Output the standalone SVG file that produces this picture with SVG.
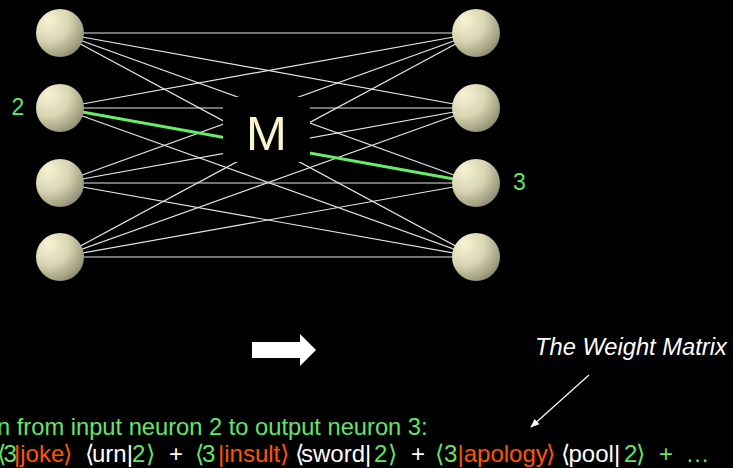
<svg xmlns="http://www.w3.org/2000/svg" width="733" height="468" viewBox="0 0 733 468">
<defs>
<radialGradient id="sph" cx="0.3" cy="0.28" r="0.85" fx="0.25" fy="0.22">
<stop offset="0" stop-color="#f6f4d4"/>
<stop offset="0.5" stop-color="#d8d5b2"/>
<stop offset="1" stop-color="#86836b"/>
</radialGradient>
<marker id="ah" viewBox="0 0 10 10" refX="9" refY="5" markerWidth="9" markerHeight="9" orient="auto" markerUnits="userSpaceOnUse">
<path d="M0,1 L10,5 L0,9 Z" fill="#ffffff"/>
</marker>
<style>
.w{stroke:#e6e6e6;stroke-width:1.2;fill:none}
.node{fill:url(#sph)}
.t{font-family:"Liberation Sans",Arial,sans-serif}
.g{fill:#66e466}
.o{fill:#ff5500}
.wh{fill:#ffffff}
</style>
</defs>
<rect width="733" height="468" fill="#000"/>
<g id="connectors">
<line class="w" x1="60" y1="33" x2="476" y2="33"/>
<line class="w" x1="60" y1="33" x2="476" y2="108"/>
<line class="w" x1="60" y1="33" x2="476" y2="183"/>
<line class="w" x1="60" y1="33" x2="476" y2="257"/>
<line class="w" x1="60" y1="108" x2="476" y2="33"/>
<line class="w" x1="60" y1="108" x2="476" y2="108"/>
<line class="w" x1="60" y1="108" x2="476" y2="257"/>
<line class="w" x1="60" y1="183" x2="476" y2="33"/>
<line class="w" x1="60" y1="183" x2="476" y2="108"/>
<line class="w" x1="60" y1="183" x2="476" y2="183"/>
<line class="w" x1="60" y1="183" x2="476" y2="257"/>
<line class="w" x1="60" y1="257" x2="476" y2="33"/>
<line class="w" x1="60" y1="257" x2="476" y2="108"/>
<line class="w" x1="60" y1="257" x2="476" y2="183"/>
<line class="w" x1="60" y1="257" x2="476" y2="257"/>
<line x1="60" y1="108" x2="476" y2="183" stroke="#66ee66" stroke-width="3"/>
<line x1="589" y1="375" x2="531" y2="427" stroke="#ffffff" stroke-width="1.2" marker-end="url(#ah)"/>
</g>
<g id="M">
<rect x="223" y="97" width="87" height="65" fill="#000"/>
<text class="t" x="266.5" y="150" font-size="49" text-anchor="middle" fill="#f8f5cc">M</text>
</g>
<g id="in1"><circle class="node" cx="60" cy="33" r="24"/></g>
<g id="in2"><circle class="node" cx="60" cy="108" r="24"/></g>
<g id="in3"><circle class="node" cx="60" cy="183" r="24"/></g>
<g id="in4"><circle class="node" cx="60" cy="257" r="24"/></g>
<g id="out1"><circle class="node" cx="476" cy="33" r="24"/></g>
<g id="out2"><circle class="node" cx="476" cy="108" r="24"/></g>
<g id="out3"><circle class="node" cx="476" cy="183" r="24"/></g>
<g id="out4"><circle class="node" cx="476" cy="257" r="24"/></g>
<text class="t g" x="11.5" y="115" font-size="23">2</text>
<text class="t g" x="513" y="190" font-size="23">3</text>
<path id="bigarrow" d="M252,342 H300 V334 L316,350 L300,366 V358 H252 Z" fill="#ffffff"/>
<text class="t wh" x="535" y="355" font-size="23.7" font-style="italic">The Weight Matrix</text>
<text class="t g" x="-3" y="435" font-size="23.7">n from input neuron 2 to output neuron 3:</text>
<text class="t" y="462" font-size="24"><tspan class="g" x="-3">⟨</tspan><tspan class="g" x="3.5">3</tspan><tspan class="o" x="14">|joke</tspan><tspan class="o" x="62.5">⟩</tspan><tspan class="wh" x="84.5">⟨</tspan><tspan class="wh" x="92">urn|</tspan><tspan class="g" x="132">2</tspan><tspan class="g" x="145.5">⟩</tspan><tspan class="wh" x="169">+</tspan><tspan class="g" x="194.5">⟨</tspan><tspan class="g" x="202">3</tspan><tspan class="o" x="218">|insult</tspan><tspan class="o" x="279.5">⟩</tspan><tspan class="wh" x="294.5">⟨</tspan><tspan class="wh" x="301">sword|</tspan><tspan class="g" x="374">2</tspan><tspan class="g" x="387.5">⟩</tspan><tspan class="wh" x="411">+</tspan><tspan class="g" x="434.5">⟨</tspan><tspan class="g" x="444">3</tspan><tspan class="o" x="457.5">|apology</tspan><tspan class="o" x="545.5">⟩</tspan><tspan class="wh" x="560.5">⟨</tspan><tspan class="wh" x="568.5">pool|</tspan><tspan class="g" x="624">2</tspan><tspan class="g" x="635.5">⟩</tspan><tspan class="g" x="659">+</tspan><tspan class="g" x="685.5">…</tspan></text>
</svg>
